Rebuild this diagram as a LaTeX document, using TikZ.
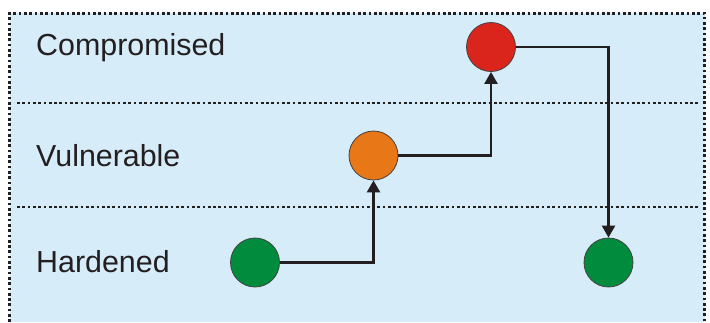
\documentclass[tikz,border=0pt]{standalone}
\usepackage{fontspec}
\setmainfont{Liberation Sans}
\usetikzlibrary{arrows.meta}
\definecolor{bgblue}{HTML}{D6ECF9}
\definecolor{ink}{HTML}{231F20}
\definecolor{cred}{HTML}{DA251D}
\definecolor{corange}{HTML}{E87817}
\definecolor{cgreen}{HTML}{008C3C}
\tikzset{
  dotline/.style={draw=ink, line width=2.8pt, dash pattern=on 2.7pt off 2.6pt},
  dot/.style={circle, minimum size=49pt, inner sep=0pt, draw=ink!85, line width=0.8pt},
  lbl/.style={anchor=base west, inner sep=0pt, text=ink, font=\fontsize{30.4}{36}\selectfont},
  conn/.style={draw=ink, line width=2.4pt, -{Triangle[length=12pt,width=13pt]}}
}
\begin{document}
\begin{tikzpicture}[x=1pt,y=-1pt]
\useasboundingbox (0,0) rectangle (710,322);
\fill[white] (0,0) rectangle (710,322);
\fill[bgblue] (9.5,13.3) rectangle (704.5,322);
\draw[dotline] (9.5,322) -- (9.5,13.3) -- (704.5,13.3) -- (704.5,322);
\draw[dotline] (17,103) -- (698,103);
\draw[dotline] (17,207) -- (698,207);
\node[lbl] (lc) at (36,55) {Compromised};
\node[lbl] (lv) at (36,166.7) {Vulnerable};
\node[lbl] (lh) at (36,272.7) {Hardened};
\node[dot, fill=cgreen] (g1) at (255,262.5) {};
\node[dot, fill=corange] (o) at (373.5,155.5) {};
\node[dot, fill=cred] (r) at (491,47) {};
\node[dot, fill=cgreen] (g2) at (608.5,262.5) {};
\draw[conn] (g1.east) -| (o.south);
\draw[conn] (o.east) -| (r.south);
\draw[conn] (r.east) -| (g2.north);
\end{tikzpicture}
\end{document}
